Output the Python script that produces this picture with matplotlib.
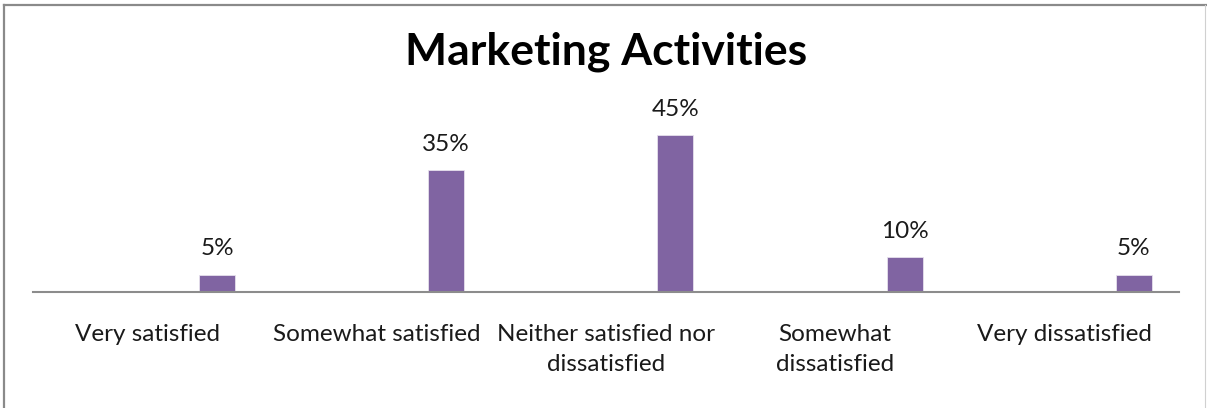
import matplotlib.pyplot as plt
from matplotlib.lines import Line2D

categories = ["Very satisfied", "Somewhat satisfied", "Neither satisfied nor\ndissatisfied",
              "Somewhat\ndissatisfied", "Very dissatisfied"]
shares = [5, 35, 45, 10, 5]

plt.rcParams['font.family'] = ['Lato', 'DejaVu Sans']

W, H = 1207, 408
fig = plt.figure(figsize=(W / 100, H / 100), dpi=100)
ax = fig.add_axes([33 / W, (H - 292) / H, (1179 - 33) / W, (292 - 118) / H])

x = range(len(categories))
pos = [i + 0.303 for i in x]
bars = ax.bar(pos, shares, width=0.157, color="#8064A2", edgecolor="#E6E0EC", linewidth=0.6)

for b, v in zip(bars, shares):
    ax.annotate(f"{v}%", (b.get_x() + b.get_width() / 2, v), xytext=(0, 11),
                textcoords="offset points", ha="center", va="bottom",
                fontsize=17.5, color="#1a1a1a", annotation_clip=False)

ax.set_xlim(-0.5, 4.5)
ax.set_ylim(0, 50)
ax.set_xticks(list(x))
ax.set_xticklabels(categories, fontsize=17.5, color="#1a1a1a", linespacing=1.55)
ax.tick_params(axis="x", length=0, pad=23)
ax.set_yticks([])
for s in ["top", "right", "left"]:
    ax.spines[s].set_visible(False)
ax.spines["bottom"].set_color("#8c8c8c")
ax.spines["bottom"].set_linewidth(1.5)

fig.text(606 / W, 1 - 52 / H, "Marketing Activities", ha="center", va="center",
         fontsize=32, fontweight="bold", color="black")

# chart frame
fig.add_artist(Line2D([4 / W, 4 / W], [0, 1 - 5 / H], transform=fig.transFigure, color="#8a8a8a", lw=1.6))
fig.add_artist(Line2D([4 / W, 1], [1 - 5 / H, 1 - 5 / H], transform=fig.transFigure, color="#8a8a8a", lw=1.6))
fig.add_artist(Line2D([1205 / W, 1205 / W], [0, 1 - 5 / H], transform=fig.transFigure, color="#d0d0d0", lw=0.8))

fig.savefig("out.png", dpi=100)
